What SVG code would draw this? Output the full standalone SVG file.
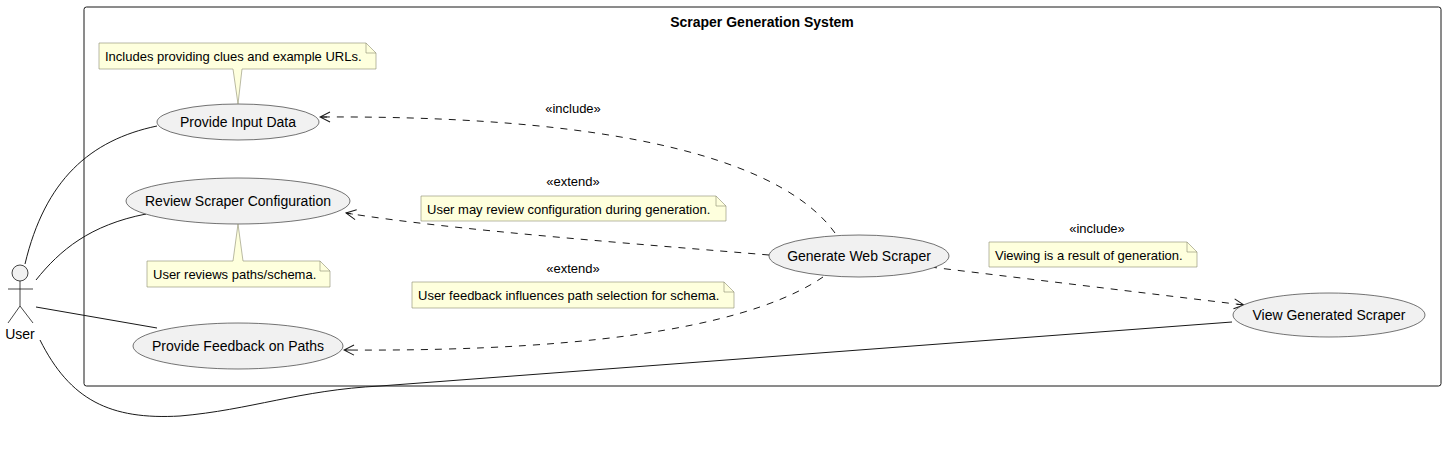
<svg xmlns="http://www.w3.org/2000/svg" width="1446" height="457" viewBox="0 0 1446 457">
<defs>
<style>
text{font-family:"Liberation Sans",Arial,sans-serif;fill:#000}
.uc{fill:#F1F1F1;stroke:#181818;stroke-width:0.6}
.uct{font-size:14px;text-anchor:middle;dominant-baseline:central}
.note{fill:#FEFFDD;stroke:#8C8C6E;stroke-width:0.6}
.nt{font-size:13px}
.st{font-size:13px;text-anchor:middle}
.assoc{fill:none;stroke:#181818;stroke-width:1}
.dep{fill:none;stroke:#181818;stroke-width:1;stroke-dasharray:7,7}
</style>
<marker id="arr" viewBox="0 0 12 12" refX="11" refY="6" markerWidth="12" markerHeight="12" markerUnits="userSpaceOnUse" orient="auto">
<path d="M1,1 L11,6 L1,11 M11,6 L4,6" fill="none" stroke="#181818" stroke-width="1"/>
</marker>
</defs>
<rect width="1446" height="457" fill="#FFFFFF"/>
<g id="system">
<rect x="84" y="7" width="1357" height="379" rx="2.5" fill="none" stroke="#181818" stroke-width="1"/>
<text x="762" y="27" font-size="14" font-weight="bold" text-anchor="middle">Scraper Generation System</text>
</g>
<g id="connectors">
<path class="assoc" d="M25,264 C45,180 90,140 157,126"/>
<path class="assoc" d="M36,280 C60,250 90,225 146,214"/>
<path class="assoc" d="M36,307 L157,328"/>
<path class="assoc" d="M40,340 C70,400 110,420 180,416 C250,410 300,390 380,386 L1232,322"/>
<path class="dep" d="M835,233 C790,170 650,115 320,117" marker-end="url(#arr)"/>
<text class="st" x="573" y="113">«include»</text>
<path class="dep" d="M769,255 C650,245 450,230 346,213" marker-end="url(#arr)"/>
<text class="st" x="573" y="186">«extend»</text>
<path class="dep" d="M823,277 C760,320 620,352 344,350" marker-end="url(#arr)"/>
<text class="st" x="573" y="273">«extend»</text>
<path class="dep" d="M930,267 L1244,305" marker-end="url(#arr)"/>
<text class="st" x="1097" y="233">«include»</text>
</g>
<g id="actor-user">
<circle cx="20" cy="273" r="8" fill="#F1F1F1" stroke="#181818" stroke-width="0.8"/>
<path d="M20,281 V306 M8,289 H33 M20,306 L8,323 M20,306 L33,323" fill="none" stroke="#181818" stroke-width="0.8"/>
<text x="20" y="339" font-size="14" text-anchor="middle">User</text>
</g>
<g id="uc-input">
<ellipse class="uc" cx="238" cy="122" rx="81" ry="18"/>
<text class="uct" x="238" y="122">Provide Input Data</text>
</g>
<g id="note-input">
<path class="note" d="M99,43 H366 L376,53 V69 H242 L238,104 L233,69 H99 Z"/>
<path d="M366,43 V53 H376" fill="none" stroke="#8C8C6E" stroke-width="0.6"/>
<text class="nt" x="105" y="61">Includes providing clues and example URLs.</text>
</g>
<g id="uc-review">
<ellipse class="uc" cx="238" cy="201" rx="112" ry="23"/>
<text class="uct" x="238" y="201">Review Scraper Configuration</text>
</g>
<g id="note-review">
<path class="note" d="M147,261 H233 L238,224 L243,261 H320 L330,271 V287 H147 Z"/>
<path d="M320,261 V271 H330" fill="none" stroke="#8C8C6E" stroke-width="0.6"/>
<text class="nt" x="153" y="279">User reviews paths/schema.</text>
</g>
<g id="uc-feedback">
<ellipse class="uc" cx="238" cy="346" rx="105" ry="23"/>
<text class="uct" x="238" y="346">Provide Feedback on Paths</text>
</g>
<g id="uc-generate">
<ellipse class="uc" cx="859" cy="256" rx="90" ry="21"/>
<text class="uct" x="859" y="256">Generate Web Scraper</text>
</g>
<g id="uc-view">
<ellipse class="uc" cx="1329" cy="315" rx="96" ry="22"/>
<text class="uct" x="1329" y="315">View Generated Scraper</text>
</g>
<g id="note-gen-review">
<path class="note" d="M421,196 H716 L726,206 V221 H421 Z"/>
<path d="M716,196 V206 H726" fill="none" stroke="#8C8C6E" stroke-width="0.6"/>
<text class="nt" x="427" y="214">User may review configuration during generation.</text>
</g>
<g id="note-gen-feedback">
<path class="note" d="M412,282 H724 L734,292 V308 H412 Z"/>
<path d="M724,282 V292 H734" fill="none" stroke="#8C8C6E" stroke-width="0.6"/>
<text class="nt" x="418" y="300">User feedback influences path selection for schema.</text>
</g>
<g id="note-view">
<path class="note" d="M989,242 H1187 L1197,252 V267 H989 Z"/>
<path d="M1187,242 V252 H1197" fill="none" stroke="#8C8C6E" stroke-width="0.6"/>
<text class="nt" x="995" y="260">Viewing is a result of generation.</text>
</g>
</svg>
